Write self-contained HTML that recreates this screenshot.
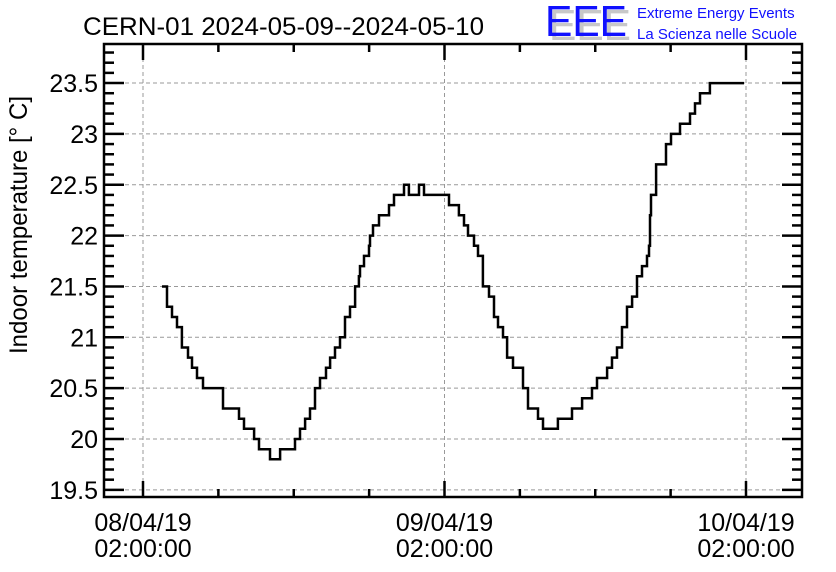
<!DOCTYPE html>
<html><head><meta charset="utf-8"><style>
body{margin:0;background:#fff}
svg{display:block;font-family:"Liberation Sans",sans-serif}
</style></head><body>
<svg id="chart" width="836" height="572" viewBox="0 0 836 572">
<text x="83" y="35" font-size="25" textLength="401" lengthAdjust="spacingAndGlyphs">CERN-01 2024-05-09--2024-05-10</text>
<g>
<text x="549" y="40" font-size="44" fill="#c8c8c8" textLength="82" lengthAdjust="spacingAndGlyphs">EEE</text>
<text x="545" y="36" font-size="44" fill="#1010ff" textLength="82" lengthAdjust="spacingAndGlyphs">EEE</text>
<text x="637" y="18" font-size="15" fill="#1010ff">Extreme Energy Events</text>
<text x="637" y="39" font-size="15" fill="#1010ff">La Scienza nelle Scuole</text>
</g>
<g id="grid"></g>
<g id="ticks"></g>
<path id="line" fill="none" stroke="#000" stroke-width="2.5"/>
<rect x="104" y="44" width="698" height="453" fill="none" stroke="#000" stroke-width="2.5"/>
<text transform="translate(27,225) rotate(-90)" font-size="25" text-anchor="middle" textLength="258" lengthAdjust="spacingAndGlyphs">Indoor temperature [° C]</text>
<g id="labels"></g>
</svg>
<script>
const hours=[1.51,1.91,2.31,2.71,3.10,3.58,3.90,4.30,4.78,6.37,7.64,8.04,8.84,9.23,10.11,10.91,12.10,12.50,12.90,13.29,13.69,14.09,14.57,14.89,15.28,15.68,16.08,16.48,16.88,17.19,17.27,17.59,17.99,18.07,18.31,18.79,19.58,19.98,20.78,21.17,21.97,22.37,24.36,25.15,25.55,25.87,26.35,26.67,27.06,27.54,27.94,28.26,28.66,28.98,29.45,30.25,30.65,31.44,31.84,33.03,34.15,34.95,35.74,36.14,36.94,37.33,37.73,38.13,38.53,38.93,39.32,39.72,40.12,40.28,40.36,40.44,40.84,41.63,42.03,42.75,43.54,43.94,44.34,45.13,47.84];
const temps=[21.5,21.3,21.2,21.1,20.9,20.8,20.7,20.6,20.5,20.3,20.2,20.1,20.0,19.9,19.8,19.9,20.0,20.1,20.2,20.3,20.5,20.6,20.7,20.8,20.9,21.0,21.2,21.3,21.5,21.6,21.7,21.8,21.9,22.0,22.1,22.2,22.3,22.4,22.5,22.4,22.5,22.4,22.3,22.2,22.1,22.0,21.9,21.8,21.5,21.4,21.2,21.1,21.0,20.8,20.7,20.5,20.3,20.2,20.1,20.2,20.3,20.4,20.5,20.6,20.7,20.8,20.9,21.1,21.3,21.4,21.6,21.7,21.8,21.9,22.2,22.4,22.7,22.9,23.0,23.1,23.2,23.3,23.4,23.5,23.5];
const yTicks=[19.5,20,20.5,21,21.5,22,22.5,23,23.5];
const yTickLabels=["19.5","20","20.5","21","21.5","22","22.5","23","23.5"];
const xTicks=[0,24,48];
const xTickLabels=[["08/04/19","02:00:00"],["09/04/19","02:00:00"],["10/04/19","02:00:00"]];
const X=h=>143+h*(603/48);
const Y=v=>439-(v-20)*101.7;
const NS="http://www.w3.org/2000/svg";
function mk(p,t,a){const e=document.createElementNS(NS,t);for(const k in a)e.setAttribute(k,a[k]);p.appendChild(e);return e;}
const grid=document.getElementById('grid'),ticks=document.getElementById('ticks'),labels=document.getElementById('labels');
yTicks.forEach((v,i)=>{
 const g=mk(grid,'line',{x1:104,x2:802,y1:Y(v),y2:Y(v),stroke:'#999','stroke-dasharray':'4 3','stroke-width':1});
 
 
 const t=mk(labels,'text',{x:98,y:Y(v)+9,'font-size':25,'text-anchor':'end'});
 
 
 t.textContent=yTickLabels[i];
});
for(let k=0;k<=43;k++){const v=19.5+k*0.1;if(v>23.85)break;const y=Y(v);const major=k%5===0;const L=major?20:10;
 const a=mk(ticks,'line',{x1:104,x2:104+L,y1:y,y2:y,stroke:'#000','stroke-width':2.5});
 
 
 const b=mk(ticks,'line',{x1:802,x2:802-L,y1:y,y2:y,stroke:'#000','stroke-width':2.5});
 
 
}
xTicks.forEach((h,i)=>{
 const g=mk(grid,'line',{x1:X(h),x2:X(h),y1:44,y2:497,stroke:'#999','stroke-dasharray':'4 3','stroke-width':1});
 
 
 xTickLabels[i].forEach((s,j)=>{
  const t=mk(labels,'text',{x:X(h),y:531+j*26,'font-size':25,'text-anchor':'middle'});
  
  
  t.textContent=s;
 });
});
for(let h=0;h<=48;h+=6){const x=X(h);const L=h%24===0?16:8;
 const a=mk(ticks,'line',{x1:x,x2:x,y1:497,y2:497-L,stroke:'#000','stroke-width':2.5});
 
 
 const b=mk(ticks,'line',{x1:x,x2:x,y1:44,y2:44+L,stroke:'#000','stroke-width':2.5});
 
 
}
let d='M'+X(hours[0])+' '+Y(temps[0]);
for(let i=1;i<hours.length;i++){d+=' H'+X(hours[i]).toFixed(1)+' V'+Y(temps[i]).toFixed(1);}
document.getElementById('line').setAttribute('d',d);
</script>
</body></html>
